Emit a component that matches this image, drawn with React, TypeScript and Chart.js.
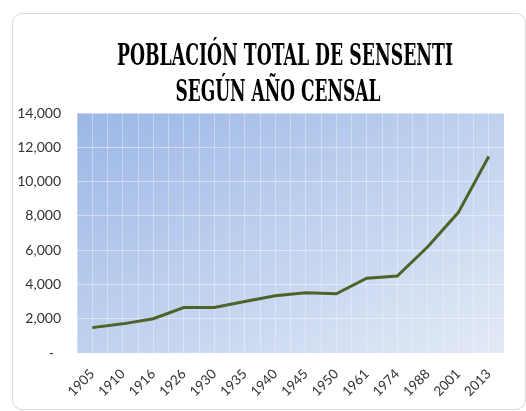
import React, { useEffect, useRef } from "react";
import { Chart, registerables } from "chart.js";

Chart.register(...registerables);

// ---- data ----
const years: string[] = [
  "1905", "1910", "1916", "1926", "1930", "1935", "1940",
  "1945", "1950", "1961", "1974", "1988", "2001", "2013",
];
const population: number[] = [
  1480, 1700, 2000, 2650, 2650, 3000, 3340,
  3520, 3450, 4360, 4490, 6200, 8190, 11460,
];
const yMin = 0;
const yMax = 14000;
const yStep = 2000;
const titleLines: string[] = ["POBLACIÓN TOTAL DE SENSENTI", "SEGÚN AÑO CENSAL"];
// half-category slots used only for the vertical grid lines (major + minor)
const gridSlots: string[] = [
  "", "", "", "", "", "", "", "", "", "", "", "", "", "",
  "", "", "", "", "", "", "", "", "", "", "", "", "", "",
];

const W = 526;
const H = 411;

const plotBg = {
  id: "plotBg",
  beforeDraw(chart: any) {
    const { ctx, chartArea } = chart;
    const { left, top, right, bottom } = chartArea;
    const w = right - left;
    const h = bottom - top;
    const k = (2 * w * h) / (w * w + h * h);
    const g = ctx.createLinearGradient(left, top, left + h * k, top + w * k);
    g.addColorStop(0, "#9bb7e6");
    g.addColorStop(0.5, "#c0d1ee");
    g.addColorStop(1, "#e3eaf6");
    ctx.save();
    ctx.fillStyle = g;
    ctx.fillRect(left, top, w, h);
    ctx.restore();
  },
};

const condensedTitle = {
  id: "condensedTitle",
  afterDraw(chart: any) {
    const ctx = chart.ctx;
    const centers = [285, 278];
    const baselines = [65, 101];
    const widths = [336, 205];
    ctx.save();
    ctx.font = 'bold 30px "DejaVu Serif", serif';
    ctx.fillStyle = "#000000";
    ctx.textAlign = "center";
    ctx.textBaseline = "alphabetic";
    titleLines.forEach((t, i) => {
      const m = ctx.measureText(t).width;
      ctx.save();
      ctx.translate(centers[i], baselines[i]);
      ctx.scale(widths[i] / m, 1);
      ctx.fillText(t, 0, 0);
      ctx.restore();
    });
    ctx.restore();
  },
};

export default function App() {
  const ref = useRef<HTMLCanvasElement | null>(null);

  useEffect(() => {
    if (!ref.current) return;
    const chart = new Chart(ref.current, {
      type: "line",
      data: {
        labels: years,
        datasets: [
          {
            label: "Población",
            data: population,
            borderColor: "#4f6228",
            borderWidth: 3,
            pointRadius: 0,
            tension: 0,
            fill: false,
          },
        ],
      },
      options: {
        responsive: false,
        animation: false,
        devicePixelRatio: 1,
        layout: { padding: { top: 113, right: 22, left: 0, bottom: 0 } },
        plugins: {
          legend: { display: false },
          title: { display: false },
          tooltip: { enabled: false },
        },
        scales: {
          x: {
            type: "category",
            offset: true,
            grid: { display: false },
            border: { display: false },
            ticks: {
              autoSkip: false,
              maxRotation: 45,
              minRotation: 45,
              padding: 5,
              color: "#333333",
              font: { family: "Lato", size: 13.5 },
            },
            afterFit: (s: any) => {
              s.height = 58;
            },
          },
          x2: {
            type: "category",
            position: "top",
            labels: gridSlots,
            offset: true,
            grid: { offset: true, color: "rgba(255,255,255,0.35)", drawTicks: false },
            border: { display: false },
            ticks: { display: false },
            afterFit: (s: any) => {
              s.height = 0;
            },
          },
          y: {
            min: yMin,
            max: yMax,
            grid: { color: "rgba(255,255,255,0.45)", drawTicks: false },
            border: { display: false },
            ticks: {
              stepSize: yStep,
              padding: 16,
              color: "#333333",
              font: { family: "Lato", size: 14 },
              callback: (v: any) =>
                Number(v) === 0 ? "-  " : Number(v).toLocaleString("en-US"),
            },
            afterFit: (s: any) => {
              s.width = 77;
            },
          },
        },
      } as any,
      plugins: [plotBg, condensedTitle],
    });
    return () => chart.destroy();
  }, []);

  return (
    <div style={{ position: "absolute", left: 0, top: 0, width: W, height: H, background: "#ffffff" }}>
      <div
        style={{
          position: "absolute",
          left: 12,
          top: 13,
          width: 514,
          height: 397,
          boxSizing: "border-box",
          border: "1px solid #d9d9d9",
          borderRadius: 10,
        }}
      />
      <canvas
        ref={ref}
        width={W}
        height={H}
        style={{ position: "absolute", left: 0, top: 0, width: W, height: H }}
      />
    </div>
  );
}
